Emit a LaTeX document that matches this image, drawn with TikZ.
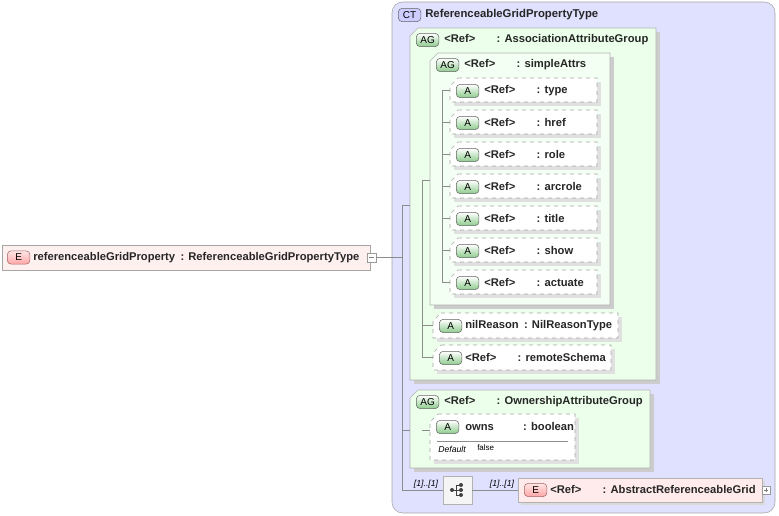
\documentclass[tikz,border=0pt]{standalone}
\usepackage{fontspec}
\setmainfont{Liberation Sans}
\begin{document}
\begin{tikzpicture}[x=0.75pt,y=-0.75pt,
 lbl/.style={font=\bfseries\fontsize{8.4}{9}\selectfont,anchor=west,text=black!85,inner sep=0},
 badge/.style={draw=black!60,rounded corners=3pt,font=\fontsize{7.5}{8}\selectfont,minimum width=17pt,minimum height=10pt,inner sep=0},
 abadge/.style={badge,fill=green!25!black!10,top color=white,bottom color=green!55!black!45},
 ebadge/.style={badge,top color=red!10,bottom color=red!35,draw=red!40!black!60},
 conn/.style={draw=black!45,line width=0.5pt},
 attr/.style={draw=black!35,dashed,fill=white}]
\useasboundingbox (0,0) rectangle (779,516);
% CT
\draw[draw=black!35,fill=blue!12!white,rounded corners=8pt] (392,2) rectangle (775,513);
\node[badge,fill=blue!20,anchor=west] (ct) at (398,15) {CT};
\node[lbl,font=\bfseries\fontsize{8.5}{9}\selectfont] (ctt) at (425,15) {ReferenceableGridPropertyType};
% left element
\draw[draw=black!35,fill=red!6] (2,245) rectangle (370,270);
\node[ebadge,anchor=west] (e1) at (7,257.5) {E};
\node[lbl] (e1t) at (33,257.5) {referenceableGridProperty\hspace{4pt}: ReferenceableGridPropertyType};
\draw[draw=black!40,fill=white] (367,253) rectangle (376,262);
\draw[black!50] (369,257.5)--(374,257.5);
\coordinate (lp) at (376,257.5);
% AG1
\fill[black!20] (414,32) -- (660,32) -- (660,384) -- (414,384) -- cycle;
\draw[draw=black!30,fill=green!8] (418,28) -- (656,28) -- (656,380) -- (410,380) -- (410,36) -- cycle;
\node[abadge,anchor=west] (ag1) at (416,40) {AG};
\node[lbl] (ag1t) at (444,40) {<Ref>\hspace{16pt}: AssociationAttributeGroup};
% AG2
\fill[black!20] (434,57) -- (614,57) -- (614,309) -- (434,309) -- cycle;
\draw[draw=black!30,fill=green!5] (438,53) -- (610,53) -- (610,305) -- (430,305) -- (430,61) -- cycle;
\node[abadge,anchor=west] (ag2) at (436,65) {AG};
\node[lbl] (ag2t) at (464,65) {<Ref>\hspace{16pt}: simpleAttrs};
% attributes
\foreach \n/\y/\t in {a1/90/type,a2/122/href,a3/154/role,a4/186/arcrole,a5/218/title,a6/250/show,a7/282/actuate}{
 \fill[black!12] (454,\y-8) rectangle (601,\y+16);
 \draw[attr] (458,\y-12) -- (597,\y-12) -- (597,\y+12) -- (450,\y+12) -- (450,\y-4) -- cycle;
 \node[abadge,anchor=west] (\n) at (456,\y+1) {A};
 \node[lbl] at (484,\y+0.5) {<Ref>\hspace{16pt}: \t};
}
\fill[black!12] (437,317) rectangle (622,342);
\draw[attr] (441,313) -- (618,313) -- (618,338) -- (433,338) -- (433,321) -- cycle;
\node[abadge,anchor=west] (nr) at (439,326) {A};
\node[lbl] at (465,325.5) {nilReason\hspace{4pt}: NilReasonType};
\fill[black!12] (437,349) rectangle (615,374);
\draw[attr] (441,345) -- (611,345) -- (611,370) -- (433,370) -- (433,353) -- cycle;
\node[abadge,anchor=west] (rs) at (439,358) {A};
\node[lbl] at (465,357.5) {<Ref>\hspace{16pt}: remoteSchema};
% AG3
\fill[black!20] (414,394) -- (654,394) -- (654,472) -- (414,472) -- cycle;
\draw[draw=black!30,fill=green!8] (418,390) -- (650,390) -- (650,468) -- (410,468) -- (410,398) -- cycle;
\node[abadge,anchor=west] (ag3) at (416,402) {AG};
\node[lbl] (ag3t) at (444,401.5) {<Ref>\hspace{16pt}: OwnershipAttributeGroup};
\fill[black!12] (434,418) rectangle (579,464);
\draw[attr] (438,414) -- (575,414) -- (575,460) -- (430,460) -- (430,422) -- cycle;
\node[abadge,anchor=west] (ow) at (436,427) {A};
\node[lbl] at (465,426.5) {owns\hspace{22pt}: boolean};
\draw[black!45] (437,441) -- (568,441);
\node[anchor=west,inner sep=0,font=\itshape\fontsize{6.5}{7}\selectfont] at (438,449) {Default};
\node[anchor=west,inner sep=0,font=\fontsize{6}{7}\selectfont] at (477,447.5) {false};
% sequence
\draw[draw=black!30,fill=black!4] (443,476) rectangle (472,504);
\node[inner sep=0] (seq) at (457.5,490) {};
\draw[black!75,line width=0.7pt] (452,490)--(456,490) (456,485)--(456,495) (456,485)--(461,485) (456,490)--(461,490) (456,495)--(461,495);
\fill[black!75] (452,490) circle[radius=1.5pt] (461,485) circle[radius=1.5pt] (461,490) circle[radius=1.5pt] (461,495) circle[radius=1.5pt];
\node[font=\itshape\fontsize{6.5}{7}\selectfont,inner sep=0] at (426,484) {[1]..[1]};
\node[font=\itshape\fontsize{6.5}{7}\selectfont,inner sep=0] at (502,484) {[1]..[1]};
\fill[black!15] (521,481) rectangle (765,505);
\draw[draw=black!30,fill=red!8] (518,478) rectangle (762,502);
\node[ebadge,anchor=west] (e2) at (524,490) {E};
\node[lbl] at (550,489.5) {<Ref>\hspace{16pt}: AbstractReferenceableGrid};
\draw[draw=black!40,fill=white] (762,486) rectangle (770,494);
\draw[black!50] (764,490)--(768,490) (766,488)--(766,492);
% connectors
\draw[conn] (lp) -- (402,257.5);
\draw[conn] (402,205) -- (402,490);
\draw[conn] (402,205) -- (410,205);
\draw[conn] (402,430) -- (410,430);
\draw[conn] (402,490) -- (443,490);
\draw[conn] (472,490) -- (518,490);
\draw[conn] (422,180) -- (422,357);
\draw[conn] (422,180) -- (430,180);
\draw[conn] (422,325) -- (433,325);
\draw[conn] (422,357) -- (433,357);
\draw[conn] (442,90) -- (442,282);
\foreach \y in {90,122,154,186,218,250,282} \draw[conn] (442,\y) -- (450,\y);
\draw[conn] (422,430) -- (430,430);
\end{tikzpicture}
\end{document}
